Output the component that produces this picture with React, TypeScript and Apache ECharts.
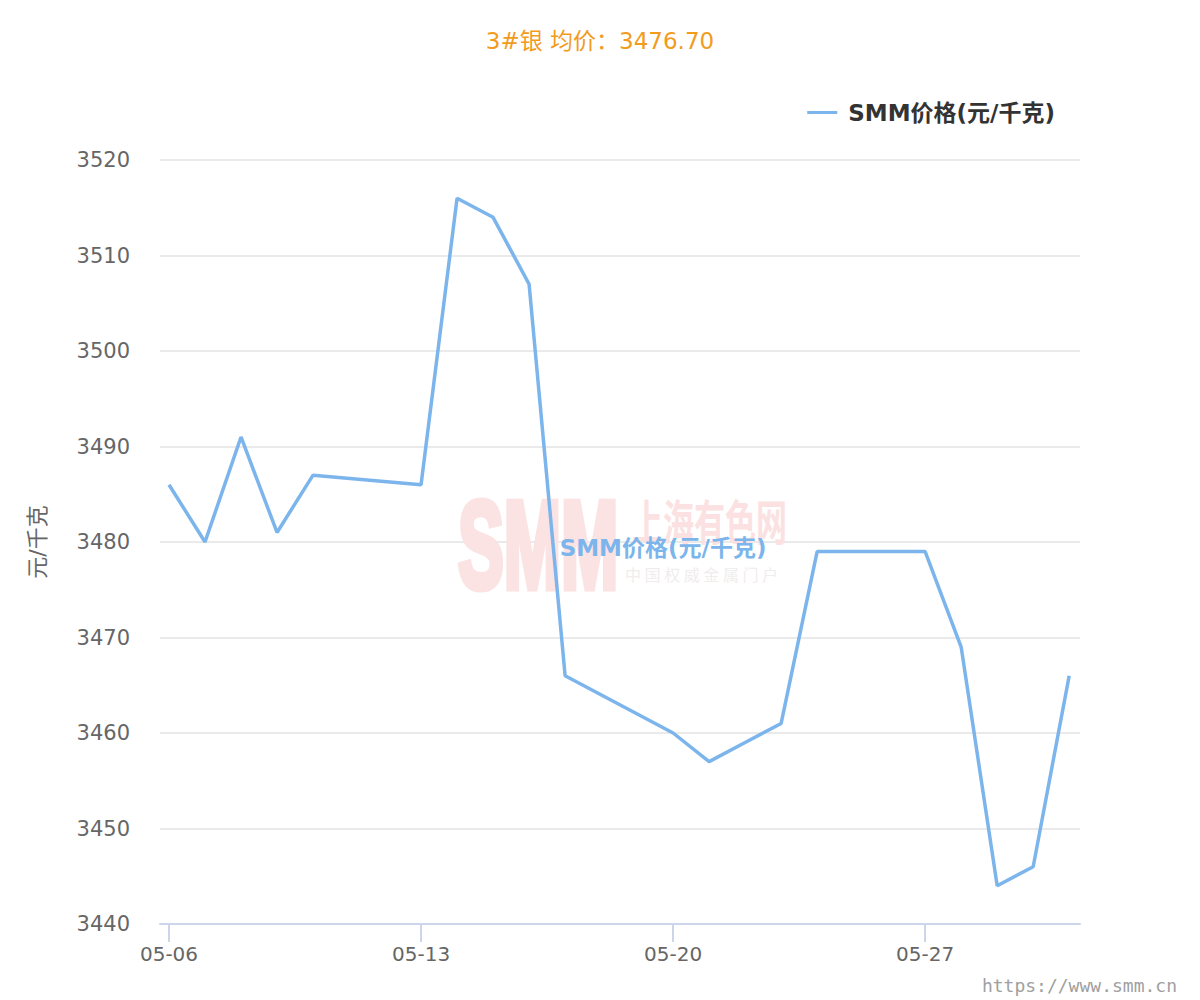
import React, { useEffect, useRef } from "react";
import * as echarts from "echarts";

const dates = [
  "05-06", "05-07", "05-08", "05-09", "05-10",
  "05-13", "05-14", "05-15", "05-16", "05-17",
  "05-20", "05-21", "05-22", "05-23", "05-24",
  "05-27", "05-28", "05-29", "05-30", "05-31",
];
const prices = [
  3486, 3480, 3491, 3481, 3487,
  3486, 3516, 3514, 3507, 3466,
  3460, 3457, 3459, 3461, 3479,
  3479, 3469, 3444, 3446, 3466,
];
const tickDates = ["05-06", "05-13", "05-20", "05-27"];
const seriesName = "SMM价格(元/千克)";
const titleText = "3#银 均价：3476.70";
const yAxisName = "元/千克";

const dayOf = (s: string) => parseInt(s.split("-")[1], 10);
const pad = (n: number) => (n < 10 ? "0" + n : "" + n);

export default function App() {
  const ref = useRef<HTMLDivElement>(null);
  useEffect(() => {
    if (!ref.current) return;
    const chart = echarts.init(ref.current, null, { renderer: "svg" });
    const latin = "DejaVu Sans, Noto Sans CJK SC, sans-serif";
    chart.setOption({
      animation: false,
      backgroundColor: "#ffffff",
      title: {
        text: titleText,
        left: "center",
        top: 24,
        textStyle: { color: "#f29b1d", fontSize: 23, fontWeight: "normal", fontFamily: latin },
      },
      legend: {
        right: 140,
        top: 96,
        itemWidth: 30,
        itemHeight: 3,
        icon: "rect",
        data: [{ name: seriesName, icon: "rect" }],
        textStyle: { color: "#333333", fontSize: 23, fontWeight: "bold", fontFamily: latin, padding: [0, 0, 0, 6] },
      },
      grid: { left: 160, right: 120, top: 160, bottom: 76 },
      xAxis: {
        type: "value",
        min: 5.75,
        max: 31.3,
        splitLine: { show: false },
        axisLine: { show: true, lineStyle: { color: "#ccd6eb", width: 2 } },
        axisTick: {
          show: true,
          length: 18,
          lineStyle: { color: "#ccd6eb", width: 2 },
          customValues: tickDates.map(dayOf),
        },
        axisLabel: {
          color: "#666666",
          fontSize: 20,
          fontFamily: latin,
          margin: 20,
          customValues: tickDates.map(dayOf),
          formatter: (v: number) => "05-" + pad(Math.round(v)),
        },
      },
      yAxis: {
        type: "value",
        min: 3440,
        max: 3520,
        interval: 10,
        name: yAxisName,
        nameLocation: "middle",
        nameGap: 112,
        nameRotate: 90,
        nameTextStyle: { color: "#666666", fontSize: 22, fontFamily: latin },
        axisLine: { show: false },
        axisTick: { show: false },
        axisLabel: {
          color: "#666666",
          fontSize: 21,
          fontFamily: latin,
          margin: 30,
          formatter: (v: number) => String(v),
        },
        splitLine: { lineStyle: { color: "#e3e3e3", width: 1.5 } },
      },
      graphic: [
        {
          type: "text",
          x: 458,
          y: 482,
          z: 1,
          scaleX: 0.55,
          style: {
            text: "SMM",
            fill: "#fbe3e3",
            stroke: "#fbe3e3",
            lineWidth: 7,
            font: "900 125px 'Liberation Sans', sans-serif",
          },
        },
        {
          type: "text",
          x: 632,
          y: 495,
          z: 1,
          scaleY: 1.55,
          style: {
            text: "上海有色网",
            fill: "#fbe1e1",
            font: "bold 31px 'Noto Sans CJK SC', sans-serif",
          },
        },
        {
          type: "text",
          x: 625,
          y: 566,
          z: 1,
          style: {
            text: "中 国 权 威 金 属 门 户",
            fill: "#f0eded",
            font: "16px 'Noto Sans CJK SC', sans-serif",
          },
        },
        {
          type: "text",
          x: 663,
          y: 548,
          z: 100,
          style: {
            text: seriesName,
            fill: "#7cb5ec",
            align: "center",
            verticalAlign: "middle",
            font: "bold 23px 'DejaVu Sans', 'Noto Sans CJK SC', sans-serif",
          },
        },
        {
          type: "text",
          x: 1177,
          y: 985,
          style: {
            text: "https://www.smm.cn",
            fill: "#a0a0a0",
            align: "right",
            verticalAlign: "middle",
            font: "18px 'DejaVu Sans Mono', monospace",
          },
        },
      ],
      series: [
        {
          name: seriesName,
          type: "line",
          data: dates.map((d, i) => [dayOf(d), prices[i]]),
          showSymbol: false,
          symbol: "none",
          z: 5,
          lineStyle: { color: "#7cb5ec", width: 3.5 },
          itemStyle: { color: "#7cb5ec" },
        },
      ],
    });
    return () => chart.dispose();
  }, []);
  return (
    <div
      ref={ref}
      style={{ position: "fixed", left: 0, top: 0, width: 1200, height: 1000 }}
    />
  );
}
